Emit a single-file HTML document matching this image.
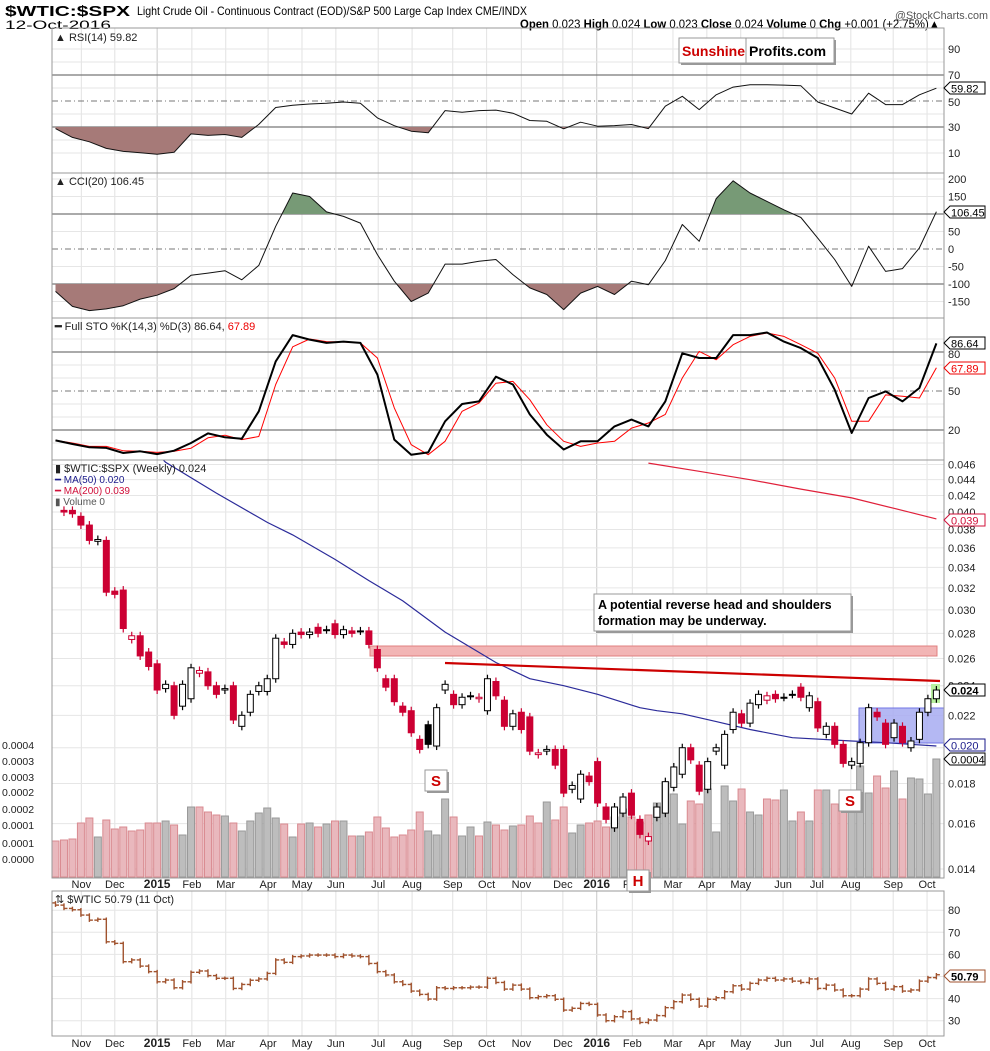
<!DOCTYPE html>
<html><head><meta charset="utf-8"><style>
html,body{margin:0;padding:0;background:#fff;}
svg{display:block;font-family:"Liberation Sans",sans-serif;}
</style></head><body>
<svg id="c" xmlns="http://www.w3.org/2000/svg" width="990" height="1051" viewBox="0 0 990 1051">
<rect x="0" y="0" width="990" height="1051" fill="#fff"/>
<text x="5" y="16" font-size="15" font-weight="bold" textLength="125" lengthAdjust="spacingAndGlyphs">$WTIC:$SPX</text>
<text x="137" y="15" font-size="12" textLength="390" lengthAdjust="spacingAndGlyphs">Light Crude Oil - Continuous Contract (EOD)/S&amp;P 500 Large Cap Index CME/INDX</text>
<text x="5" y="29" font-size="11.5" textLength="106" lengthAdjust="spacingAndGlyphs">12-Oct-2016</text>
<text x="520" y="28" font-size="11.5" textLength="420" lengthAdjust="spacingAndGlyphs"><tspan font-weight="bold">Open</tspan> 0.023 <tspan font-weight="bold">High</tspan> 0.024 <tspan font-weight="bold">Low</tspan> 0.023 <tspan font-weight="bold">Close</tspan> 0.024 <tspan font-weight="bold">Volume</tspan> 0 <tspan font-weight="bold">Chg</tspan> +0.001 (+2.75%)▲</text>
<text x="895" y="19" font-size="11" fill="#555" textLength="93" lengthAdjust="spacingAndGlyphs">@StockCharts.com</text>
<g id="g"></g>
</svg>
<script>
// ---------- DATA ----------
const candleOpen=[.0402,.0402,.0395,.0385,.0367,.0368,.0317,.0318,.0275,.0278,.0265,.0256,.0238,.0240,.0226,.0231,.0249,.0250,.0240,.0237,.0240,.0213,.0222,.0236,.0236,.0245,.0273,.0271,.0281,.0279,.0285,.0283,.0288,.0279,.0282,.0282,.0282,.0267,.0245,.0245,.0226,.0223,.0205,.0214,.0201,.0237,.0234,.0227,.0233,.0231,.0223,.0243,.0230,.0213,.0222,.0219,.0196,.0198,.0199,.0199,.0177,.0172,.0184,.0192,.0168,.0158,.0165,.0175,.0162,.0152,.0163,.0165,.0178,.0185,.0200,.0190,.0177,.0198,.0190,.0211,.0221,.0215,.0227,.0230,.0234,.0232,.0234,.0239,.0225,.0229,.0208,.0213,.0202,.0190,.0191,.0203,.0222,.0215,.0206,.0213,.0200,.0205,.0222,.0231];
const candleClose=[.0400,.0398,.0385,.0368,.0369,.0316,.0314,.0284,.0278,.0262,.0254,.0237,.0241,.0220,.0241,.0253,.0251,.0240,.0234,.0238,.0217,.0220,.0234,.0240,.0245,.0276,.0271,.0280,.0279,.0281,.0280,.0283,.0279,.0283,.0280,.0282,.0271,.0253,.0239,.0229,.0222,.0209,.0199,.0202,.0225,.0241,.0227,.0232,.0233,.0232,.0245,.0233,.0213,.0221,.0211,.0198,.0197,.0199,.0190,.0175,.0179,.0185,.0181,.0170,.0162,.0168,.0173,.0164,.0155,.0154,.0168,.0181,.0189,.0200,.0193,.0176,.0192,.0200,.0208,.0222,.0215,.0228,.0234,.0233,.0231,.0232,.0234,.0232,.0233,.0212,.0213,.0202,.0191,.0192,.0203,.0225,.0219,.0202,.0215,.0203,.0204,.0222,.0231,.0237];
const volumes=[36,37,38,54,59,40,57,48,50,46,47,54,54,56,52,42,70,70,65,62,61,54,46,56,64,69,59,53,40,53,54,50,53,56,56,41,41,45,60,49,40,42,47,65,46,42,78,60,41,50,41,55,52,47,51,52,61,54,75,57,70,44,52,54,56,50,60,68,60,55,62,74,95,83,53,76,73,88,45,91,76,88,65,62,78,77,87,56,65,56,87,87,73,73,74,111,84,101,89,106,78,99,98,83,118];
const ma50Week=[12,13,19,25,28,33,37,41,46,52,56,60,64,69,71,74,78,82,87,94,98,104];
const ma50Vals=[.0475,.0463,.0423,.0388,.0374,.0348,.0327,.0308,.0281,.0257,.0245,.0240,.0234,.0225,.0223,.0221,.0216,.0211,.0206,.0204,.0203,.0201];
const ma200Week=[70,76,82,88,94,100,104];
const ma200Vals=[.0462,.0451,.0440,.0428,.0417,.0402,.0392];
const indWeek=[0,2,4,6,8,10,12,14,16,18,20,22,24,26,28,30,32,34,36,38,40,42,44,46,48,50,52,54,56,58,60,62,64,66,68,70,72,74,76,78,80,82,84,86,88,90,92,94,96,98,100,102,104];
const rsiVals=[28.8,22,18.6,13.5,11.2,10.2,9,10.5,24.7,23.5,24.2,22,32,45,46.7,47.7,48.2,49.2,48.2,37,31,26.8,25.5,42.6,41.3,42.6,43,40.6,35,34.4,28.6,33.7,30.6,31.1,31.9,28.8,46,53.6,43.4,54.8,60.7,62.5,62.5,62.2,61.7,49.2,44.6,40,56,47.2,47.2,54.8,59.82];
const cciVals=[-121,-164,-176,-171,-162,-143,-132,-113,-75,-69,-62,-88,-47,65,160,150,106,93,74,-16,-92,-150,-126,-43,-43,-35,-30,-73,-111,-130,-173,-126,-107,-130,-92,-102,-33,70,22,144,195,160,136,112,90,31,-30,-107,8,-64,-56,3,106.45];
const stoK=[12,9.2,6.7,6.2,2.3,3.6,1.5,4.1,10,17.4,14.4,13.3,34.4,72.8,93,89.5,87,88,87,62.6,12.6,1,2.8,26.7,40,42,61,55,32,16.4,5,11.3,11.3,22.8,28,22.8,42,79,75.4,75.4,93,93,95,88,83,75.4,51,17.7,44.6,49.7,42,52.3,86.64];
const stoD=[12,10,7.4,7.4,4,3.6,2.8,3.6,6,14,16,12.6,15,55,84,90,88,87.7,87,75.4,37,8.7,1,11.3,34.4,40.8,56,57.4,43.3,24,11.3,7.4,10,11.3,21.5,25.4,32,60,80.5,74,85.6,92,94.6,92,85.6,79,60,26.7,26.7,47,46,44.6,67.89];
const wticClose=[82.3,80.8,80.2,77.8,75.5,75.9,65.7,65,56.7,57.5,54.7,52.2,47.6,48.4,44.9,47.6,51.9,52.5,50.4,49.2,49.2,44.6,46.4,48.3,48.9,51.4,57.5,56.4,59,59.3,59.7,59.7,59.7,59,59.7,59.3,59,55.9,52.2,50.7,47.6,46.4,43.4,41.9,39.8,44.9,44.6,44.9,44.9,45.2,45.2,49.2,47.3,44.3,46.1,44.3,40.4,40.9,41.3,39.7,34.8,35.6,37.8,37.4,32.6,30,31.8,34.1,30.8,29.2,30.3,32.3,35.9,38.6,41.6,39.7,36.6,39.7,40.4,43.1,45.8,44.3,46.9,48.4,49.2,48.4,48.9,47.9,47.3,48.9,44.6,46.1,43.9,41.3,41.3,44.3,48.9,46.9,44.3,45.4,43.4,43.9,47.9,49.5,50.79];
const monthLabels=["Nov","Dec","2015","Feb","Mar","Apr","May","Jun","Jul","Aug","Sep","Oct","Nov","Dec","2016","Feb","Mar","Apr","May","Jun","Jul","Aug","Sep","Oct"];
const monthWeeks=[3.05,7.0,12.0,16.1,20.1,25.1,29.1,33.1,38.1,42.1,46.9,50.9,55.0,59.9,63.9,68.1,72.9,76.9,80.9,85.9,89.9,93.9,98.9,102.9];
const priceTicks=[.046,.044,.042,.040,.038,.036,.034,.032,.030,.028,.026,.024,.022,.020,.018,.016,.014];
const volTickLabels=["0.0004","0.0003","0.0003","0.0002","0.0002","0.0001","0.0001","0.0000"];
const volTickVals=[83,67,51,36,19,3,-15,-31];
// ---------- SCALES ----------
const L=52,R=944;
const X=j=>55.5+8.47*j;
const PY=v=>869-340*Math.log(v/0.014);
const VY=v=>877-v;
const volLabelY=v=>828-v;
const RY=v=>101-(v-50)*1.3;
const CY=v=>249-v*0.35;
const SY=v=>391-(v-50)*1.3;
const WY=v=>1020.7-(v-30)*2.21;
const NS="http://www.w3.org/2000/svg";
const G=document.getElementById('g');
function mk(tag,attrs,parent){const e=document.createElementNS(NS,tag);for(const k in attrs)e.setAttribute(k,attrs[k]);(parent||G).appendChild(e);return e;}
function txt(s,attrs,parent){const e=mk('text',attrs,parent);e.textContent=s;return e;}
const panels=[[28,173],[173,318],[318,460],[460,878],[891,1036]];
// clip for main
const defs=mk('defs',{});
panels.forEach((p,i)=>{const cp=mk('clipPath',{id:'cp'+i},defs);mk('rect',{x:L,y:p[0],width:R-L,height:p[1]-p[0]},cp);});
// vertical gridlines
panels.forEach((p,i)=>{monthWeeks.forEach((w,k)=>{
  const l=mk('line',{x1:X(w),x2:X(w),y1:p[0],y2:p[1],stroke:(monthLabels[k].length===4?'#c8c8c8':'#e2e2e2'),'stroke-width':1});
  
  
});});
// horizontal lines helper
function hline(y,kind,name){const a={x1:L,x2:R,y1:y,y2:y};
  if(kind==='solid'){a.stroke='#777';a['stroke-width']=1.2;}
  else if(kind==='dash'){a.stroke='#777';a['stroke-width']=1;a['stroke-dasharray']='6,3,1,3';}
  else {a.stroke='#e6e6e6';a['stroke-width']=1;}
  const l=mk('line',a);}
function rlabel(s,y,name,color){const t=txt(s,{x:948,y:y+4,'font-size':11,fill:color||'#222'});}
// RSI panel
[90,80,60,40,20,10].forEach(v=>hline(RY(v),'light','rsi-gridline'));
hline(RY(70),'solid','rsi-70-line');hline(RY(30),'solid','rsi-30-line');hline(RY(50),'dash','rsi-50-line');
[90,70,50,30,10].forEach(v=>{if(v!==50)rlabel(String(v),RY(v),'rsi-tick-label');});
rlabel('50',RY(50)+1,'rsi-tick-label');
// CCI
[200,150,50,-50,-150].forEach(v=>hline(CY(v),'light','cci-gridline'));
hline(CY(100),'solid','cci-100-line');hline(CY(-100),'solid','cci-minus100-line');hline(CY(0),'dash','cci-zero-line');
[200,150,50,0,-50,-100,-150].forEach(v=>rlabel(String(v),CY(v),'cci-tick-label'));
// STO
[90,70,60,40,30,10].forEach(v=>hline(SY(v),'light','sto-gridline'));
hline(SY(80),'solid','sto-80-line');hline(SY(20),'solid','sto-20-line');hline(SY(50),'dash','sto-50-line');
rlabel('80',SY(80)+2,'sto-tick-label');rlabel('50',SY(50),'sto-tick-label');rlabel('20',SY(20),'sto-tick-label');
// main gridlines & ticks
priceTicks.forEach(v=>{hline(PY(v),'light','price-gridline');rlabel(v.toFixed(3),PY(v),'price-tick-label');});
volTickVals.forEach((v,k)=>{const t=txt(volTickLabels[k],{x:2,y:volLabelY(v)+4,'font-size':10.5,fill:'#222'});});
// WTIC gridlines
[80,70,60,50,40,30].forEach(v=>{hline(WY(v),'light','wtic-gridline');if(v!==50)rlabel(String(v),WY(v),'wtic-tick-label');});
// ---------- indicator lines ----------
function pts(vals,fy){return indWeek.map((w,k)=>X(w).toFixed(1)+','+fy(vals[k]).toFixed(1)).join(' ');}
function fillZone(vals,fy,thr,above,color,ci,name){
  const cpid='fz'+name;const cp=mk('clipPath',{id:cpid},defs);
  const p=panels[ci];const ty=fy(thr);
  if(above)mk('rect',{x:L,y:p[0],width:R-L,height:ty-p[0]},cp);else mk('rect',{x:L,y:ty,width:R-L,height:p[1]-ty},cp);
  const poly=mk('polygon',{points:X(indWeek[0])+','+ty+' '+pts(vals,fy)+' '+X(indWeek[indWeek.length-1])+','+ty,fill:color,'clip-path':'url(#'+cpid+')'});
  }
fillZone(rsiVals,RY,30,false,'#a67a78',0,'rsi-oversold-fill');
fillZone(rsiVals,RY,70,true,'#7a9a78',0,'rsi-overbought-fill');
fillZone(cciVals,CY,-100,false,'#a67a78',1,'cci-oversold-fill');
fillZone(cciVals,CY,100,true,'#779a76',1,'cci-overbought-fill');
function line(vals,fy,color,w,name,ci){const l=mk('polyline',{points:pts(vals,fy),fill:'none',stroke:color,'stroke-width':w,'stroke-linejoin':'round','clip-path':'url(#cp'+ci+')'});}
line(rsiVals,RY,'#111',1,'rsi-line',0);
line(cciVals,CY,'#111',1,'cci-line',1);
line(stoD,SY,'#f00',1,'sto-d-line',2);
line(stoK,SY,'#000',2,'sto-k-line',2);
// ---------- main panel ----------
// resistance zone
const band=mk('rect',{x:370,y:646,width:567,height:10,fill:'#f2b5b5',stroke:'#e08080','stroke-width':1});
// consolidation box
const box=mk('rect',{x:859,y:708,width:85,height:35,fill:'#a8acf2',stroke:'#5a5fe0','stroke-width':1,opacity:0.85});
// volume bars
volumes.forEach((v,j)=>{const i=j-1;let up=false;if(i>=1)up=candleClose[i]>=candleClose[i-1];
  const r=mk('rect',{x:X(j)-3.5,y:VY(v),width:7,height:v,fill:up?'#bdbdbd':'#e9b8bd',stroke:up?'#999':'#d98a90','stroke-width':1,'clip-path':'url(#cp3)'});
  
  });
// MA lines
function maLine(ws,vs,color,name){const l=mk('polyline',{points:ws.map((w,k)=>X(w).toFixed(1)+','+PY(vs[k]).toFixed(1)).join(' '),fill:'none',stroke:color,'stroke-width':1.2,'clip-path':'url(#cp3)'});}
maLine(ma50Week,ma50Vals,'#2b2b9a','ma50-line');
maLine(ma200Week,ma200Vals,'#e0203a','ma200-line');
// neckline
const nk=mk('line',{x1:445,y1:663,x2:940,y2:681,stroke:'#cc0000','stroke-width':2.2});
// green highlight last candle
const hl=mk('rect',{x:931,y:684,width:9,height:19,fill:'#b8f0a0'});
// candles
candleClose.forEach((c,i)=>{const o=candleOpen[i];const x=X(i+1);const prev=i>0?candleClose[i-1]:candleOpen[0];
  const down=c<prev;const hollow=c>o;
  const col=down?'#cc0033':'#000';const yt=PY(Math.max(o,c)),yb=PY(Math.min(o,c));
  const wk=mk('line',{x1:x,x2:x,y1:yt-4,y2:yb+4,stroke:col,'stroke-width':1.2,'clip-path':'url(#cp3)'});
  
  
  const b=mk('rect',{x:x-3,y:yt,width:6,height:Math.max(1,yb-yt),fill:hollow?'#fff':col,stroke:col,'stroke-width':1,'clip-path':'url(#cp3)'});
  
  });
// WTIC OHLC bars
wticClose.forEach((c,j)=>{const o=j>0?wticClose[j-1]:c+1;const x=X(j);const hi=Math.max(o,c)+0.8,lo=Math.min(o,c)-0.8;
  const gg=mk('g',{stroke:'#a0522d','stroke-width':1.4});
  
  
  mk('line',{x1:x,x2:x,y1:WY(hi),y2:WY(lo)},gg);mk('line',{x1:x-3.5,x2:x,y1:WY(o),y2:WY(o)},gg);mk('line',{x1:x,x2:x+3.5,y1:WY(c),y2:WY(c)},gg);});
// panel borders
panels.forEach((p,i)=>{const r=mk('rect',{x:L,y:p[0],width:R-L,height:p[1]-p[0],fill:'none',stroke:'#999','stroke-width':1});});
// month labels
[884,1043].forEach(yy=>monthWeeks.forEach((w,k)=>{const yr=monthLabels[k].length===4;const t=txt(monthLabels[k],{x:X(w),y:yy+4,'font-size':yr?12:11,'font-weight':yr?'bold':'normal','text-anchor':'middle',fill:'#222'});}));
// legends
function leg(s,x,y,color,name,fs){const t=txt(s,{x:x,y:y,'font-size':fs||11,fill:color});return t;}
leg('▲ RSI(14) 59.82',55,41,'#222','rsi-legend');
leg('▲ CCI(20) 106.45',55,185,'#222','cci-legend');
const sl=leg('',55,330,'#222','sto-legend');sl.innerHTML='<tspan font-weight="bold">━</tspan> Full STO %K(14,3) %D(3) 86.64, <tspan fill="#e00">67.89</tspan>';
leg('▮ $WTIC:$SPX (Weekly) 0.024',55,472,'#222','price-legend');
leg('━ MA(50) 0.020',55,483,'#1a1a8a','ma50-legend',10);
leg('━ MA(200) 0.039',55,494,'#d0103a','ma200-legend',10);
leg('▮ Volume 0',55,505,'#555','volume-legend',10);
leg('⇅ $WTIC 50.79 (11 Oct)',55,903,'#222','wtic-legend');
// value tags
function tag(s,y,color,name,bold){const gg=mk('g',{});
  mk('polygon',{points:`944,${y} 950,${y-6} 985,${y-6} 985,${y+6} 950,${y+6}`,fill:'#fff',stroke:color,'stroke-width':1},gg);
  txt(s,{x:951,y:y+4.5,'font-size':11,'font-weight':bold?'bold':'normal',fill:bold?'#000':color},gg);}
tag('59.82',88,'#000','rsi-value-tag');tag('106.45',212,'#000','cci-value-tag');
tag('86.64',343,'#000','sto-k-tag');tag('67.89',368,'#e00','sto-d-tag');
tag('0.039',520,'#d0103a','ma200-tag');tag('0.024',690,'#000','price-tag',true);
tag('0.020',745,'#1a1a8a','ma50-tag');tag('0.0004',759,'#000','volume-tag');
tag('50.79',976,'#a0522d','wtic-tag',true);
// annotations
function note(x,y,w,h,name){const r=mk('rect',{x:x+2,y:y+2,width:w,height:h,fill:'#999'});
  const b=mk('rect',{x:x,y:y,width:w,height:h,fill:'#fff',stroke:'#999','stroke-width':1});}
note(594,594,257,37,'annotation-box');
leg('A potential reverse head and shoulders',598,609,'#000','annotation-line1',12.5).setAttribute('font-weight','bold');
leg('formation may be underway.',598,625,'#000','annotation-line2',12.5).setAttribute('font-weight','bold');
[[425,770,'S','left-shoulder-label'],[839,790,'S','right-shoulder-label'],[627,870,'H','head-label']].forEach(a=>{note(a[0],a[1],22,21,a[3]+'-box');const t=txt(a[2],{x:a[0]+11,y:a[1]+16,'font-size':15,'font-weight':'bold',fill:'#cc0000','text-anchor':'middle'});});
// sunshine profits logo
note(679,38,155,25,'sunshine-logo');
const dv=mk('line',{x1:746,x2:746,y1:38,y2:63,stroke:'#999'});
leg('Sunshine',682,56,'#cc0000','logo-sunshine',14).setAttribute('font-weight','bold');
leg('Profits.com',749,56,'#000','logo-profits',14).setAttribute('font-weight','bold');
</script>
</body></html>
